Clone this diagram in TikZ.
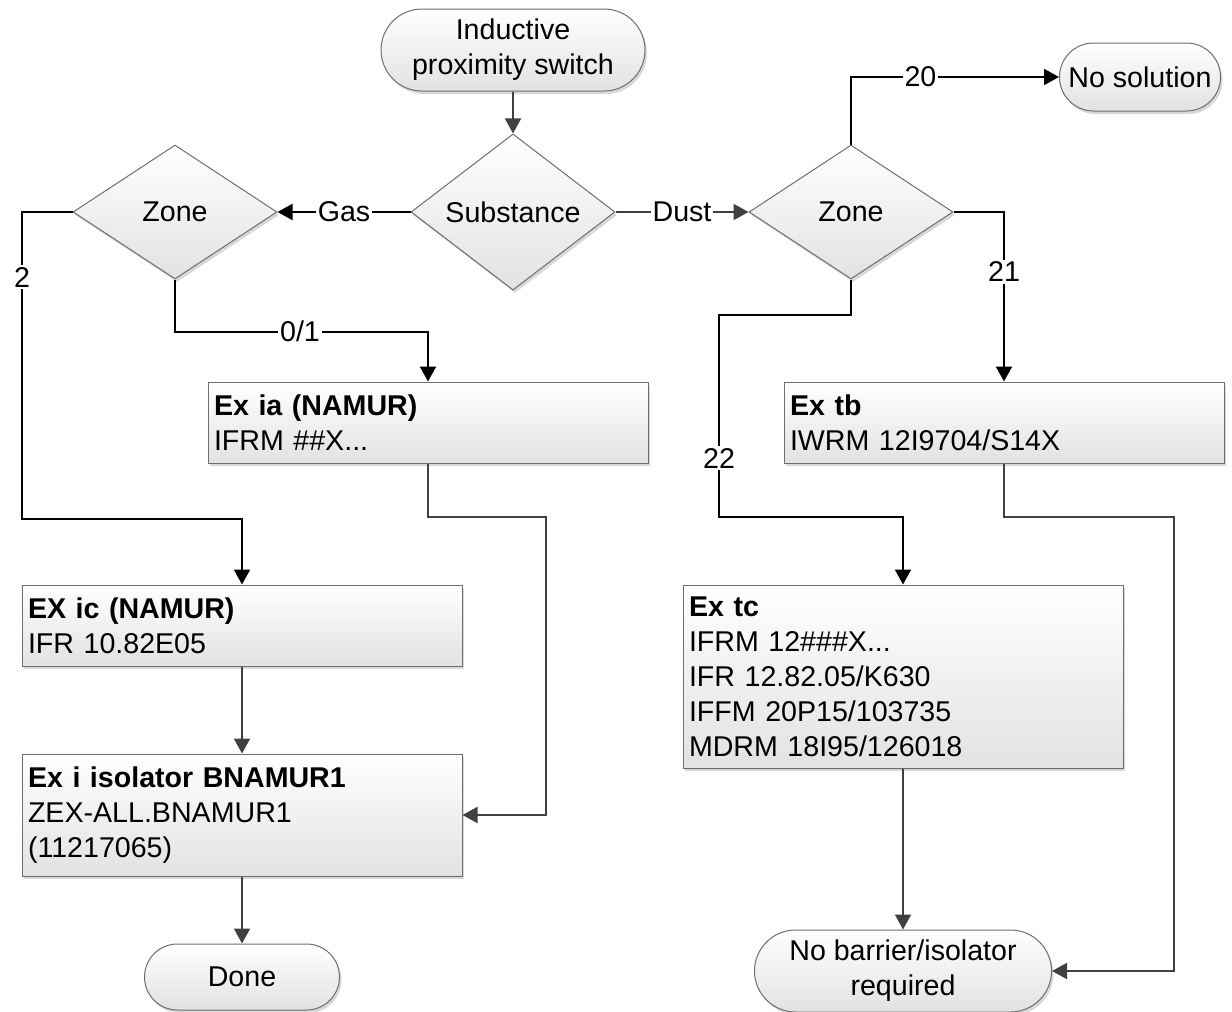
\documentclass[tikz,border=0pt]{standalone}
\usepackage{fontspec}
\setmainfont{Liberation Sans}
\usepackage{tikz}
\usetikzlibrary{arrows.meta,shapes.geometric,shapes.misc,shadows}
\definecolor{edgegray}{RGB}{64,64,64}
\definecolor{framegray}{RGB}{110,110,110}
\definecolor{shadegray}{RGB}{226,226,226}
\tikzset{>={Triangle[length=7.5pt,width=8pt]}}
\tikzset{
  flowshape/.style={draw=framegray, line width=0.5pt, top color=white, bottom color=shadegray,
    drop shadow={shadow xshift=1pt, shadow yshift=-1.5pt, fill=black!30, opacity=0.5}},
  termbox/.style={flowshape, rounded rectangle, align=center, inner sep=2pt},
  decbox/.style={flowshape, diamond, inner sep=0pt, minimum width=102pt, minimum height=67pt},
  partbox/.style={flowshape, rectangle, align=left, text width=214pt, inner xsep=3pt},
  link/.style={->, line width=1pt, edgegray},
  zonelink/.style={->, line width=1pt, black},
  lbl/.style={fill=white, inner sep=1pt, text=black}
}

\begin{document}
\begin{tikzpicture}[x=0.5pt,y=-0.5pt,every node/.style={font=\fontsize{14.3}{17.5}\selectfont}]
\useasboundingbox (0,0) rectangle (1232,1012);
% terminators
\node[termbox, minimum width=136pt, minimum height=41pt] (start) at (513,50) {Inductive\\proximity switch};
\node[termbox, minimum width=84.5pt, minimum height=34pt] (nosol) at (1140,77) {No solution};
\node[termbox, minimum width=101.5pt, minimum height=33pt] (done) at (242,977) {Done};
\node[termbox, minimum width=152.5pt, minimum height=41pt] (nobar) at (903,971) {No barrier/isolator\\required};
% decisions
\node[decbox] (subst) at (513,212) {Substance};
\node[decbox] (zoneG) at (175,212) {Zone};
\node[decbox] (zoneD) at (851,212) {Zone};
% device boxes
\node[partbox, minimum height=40.5pt] (exia) at (428,422.5) {\textbf{Ex ia (NAMUR)}\\IFRM \#\#X...};
\node[partbox, minimum height=40.5pt] (extb) at (1004,422.5) {\textbf{Ex tb}\\IWRM 12I9704/S14X};
\node[partbox, minimum height=40.5pt] (exic) at (242,625.5) {\textbf{EX ic (NAMUR)}\\IFR 10.82E05};
\node[partbox, minimum height=61pt] (iso) at (242,815) {\textbf{Ex i isolator BNAMUR1}\\ZEX-ALL.BNAMUR1\\(11217065)};
\node[partbox, minimum height=91.5pt] (extc) at (903,676.5) {\textbf{Ex tc}\\IFRM 12\#\#\#X...\\IFR 12.82.05/K630\\IFFM 20P15/103735\\MDRM 18I95/126018};
% bend points
\coordinate (g2) at (22,519);
\coordinate (d22a) at (719,315);
\coordinate (d22b) at (719,517);
\coordinate (ia) at (546,517);
\coordinate (tb) at (1174,517);
% connectors
\foreach \a/\b in {start/subst, exic/iso, iso/done, extc/nobar}
  \draw[link] (\a.south) -- (\b.north);
\draw[zonelink] (subst.west) -- node[lbl] (lgas) {Gas} (zoneG.east);
\draw[link] (subst.east) -- node[lbl] (ldust) {Dust} (zoneD.west);
\draw[zonelink] (zoneD.north) |- node[lbl, pos=0.667] (l20) {20} (nosol.west);
\draw[zonelink] (zoneD.east) -| node[lbl, pos=0.676] (l21) {21} (extb.north);
\draw[zonelink] (zoneD.south) |- (d22a) -- node[lbl, pos=0.71] (l22) {22} (d22b) -| (extc.north);
\draw[zonelink] (zoneG.south) -- ++(0,52) -| node[lbl, pos=0.247] (l01) {0/1} (exia.north);
\draw[zonelink] (zoneG.west) -| node[lbl, pos=0.606] (l2) {2} (g2) -| (exic.north);
\draw[link] (exia.south) |- (ia) |- (iso.east);
\draw[link] (extb.south) |- (tb) |- (nobar.east);
\end{tikzpicture}
\end{document}
